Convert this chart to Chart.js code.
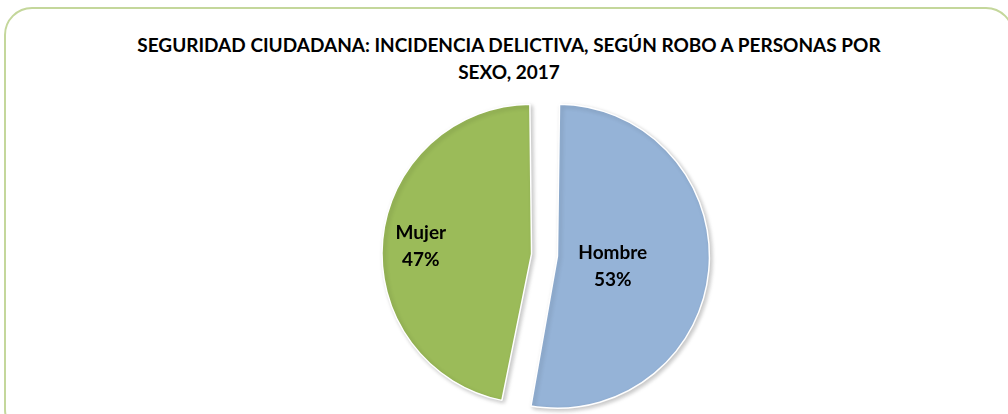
<!DOCTYPE html>
<html>
<head>
<meta charset="utf-8">
<script src="https://cdn.jsdelivr.net/npm/chart.js@4.4.0/dist/chart.umd.min.js"></script>
<style>
  html, body { margin: 0; padding: 0; background: #fff; }
  #wrap { position: relative; width: 1008px; height: 414px; overflow: hidden; }
  #frame {
    position: absolute; left: 4px; top: 7px; width: 1010px; height: 430px;
    border: 2px solid #C4D79B; border-radius: 28px; box-sizing: border-box;
  }
  #title {
    position: absolute; left: 0; top: 31px; width: 1018px; text-align: center;
    font-family: Lato, "Open Sans", sans-serif; font-weight: bold; font-size: 19px;
    line-height: 27px; color: #000;
  }
  #chart { position: absolute; left: 0; top: 0; }
</style>
</head>
<body>
<div id="wrap">
  <div id="frame"></div>
  <div id="title">SEGURIDAD CIUDADANA: INCIDENCIA DELICTIVA, SEGÚN ROBO A PERSONAS POR<br>SEXO, 2017</div>
  <canvas id="chart" width="1008" height="414"></canvas>
</div>
<script>
const categories = ["Hombre", "Mujer"];
const shares = [53, 47];
const colors = ["#95B3D7", "#9BBB59"];

// labels sit at a fraction of the radius along each slice's mid angle
const labelPlugin = {
  id: "sliceLabels",
  beforeDatasetsDraw(chart) {
    const ctx = chart.ctx;
    ctx.save();
    ctx.shadowColor = "rgba(0,0,0,0.22)";
    ctx.shadowBlur = 4;
    ctx.shadowOffsetX = 2;
    ctx.shadowOffsetY = 2;
  },
  afterDatasetsDraw(chart, args, opts) {
    const ctx = chart.ctx;
    ctx.restore();
    const meta = chart.getDatasetMeta(0);
    ctx.save();
    ctx.fillStyle = "#000";
    ctx.font = "bold 19px Lato, 'Open Sans', sans-serif";
    ctx.textAlign = "center";
    ctx.textBaseline = "middle";
    meta.data.forEach((arc, i) => {
      const p = arc.getProps(["x", "y", "startAngle", "endAngle", "outerRadius"], true);
      const mid = (p.startAngle + p.endAngle) / 2;
      const shift = (arc.options.offset || 0) / 4;
      const r = p.outerRadius * opts.radius[i] + shift;
      const x = p.x + Math.cos(mid) * r;
      const y = p.y + Math.sin(mid) * r + opts.dy[i];
      ctx.fillText(categories[i], x, y - 13.5);
      ctx.fillText(shares[i] + "%", x, y + 13.5);
    });
    ctx.restore();
  }
};

new Chart(document.getElementById("chart"), {
  type: "pie",
  data: {
    labels: categories,
    datasets: [{
      data: shares,
      backgroundColor: colors,
      borderColor: "#ffffff",
      borderWidth: 1.5,
      offset: 52
    }]
  },
  options: {
    responsive: false,
    animation: false,
    radius: 139,
    layout: { padding: { left: 81, right: 0, top: 96, bottom: 0 } },
    plugins: {
      legend: { display: false },
      tooltip: { enabled: false },
      sliceLabels: { radius: [0.4, 0.8], dy: [5, 3] }
    }
  },
  plugins: [labelPlugin]
});
</script>
</body>
</html>
